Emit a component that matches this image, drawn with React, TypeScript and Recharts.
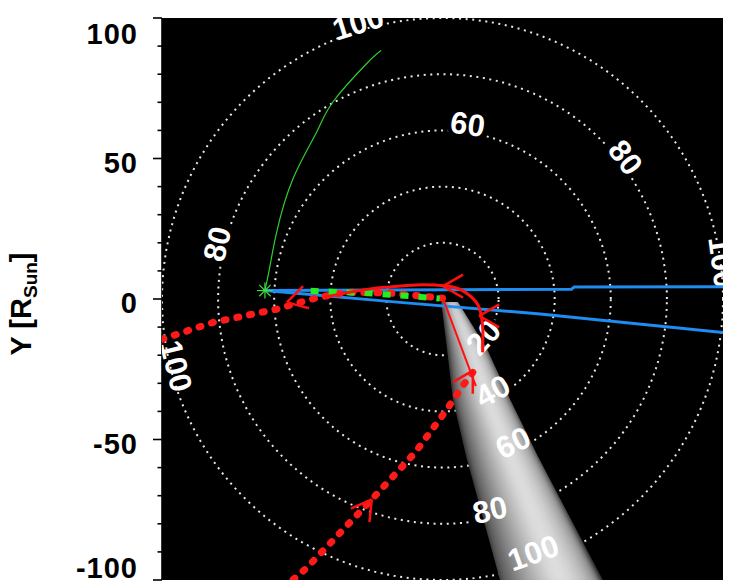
import React from "react";
import { ScatterChart, Scatter, XAxis, YAxis, ReferenceArea } from "recharts";

// axis setup (R_sun)
const AXIS_TICKS = [-100, -90, -80, -70, -60, -50, -40, -30, -20, -10, 0, 10, 20, 30, 40, 50, 60, 70, 80, 90, 100];
const MAJOR_TICKS = [-100, -50, 0, 50, 100];

// dotted distance rings and their labels
const RING_RADII = [20, 40, 60, 80, 100];
const RING_LABELS = [
  { label: "100", x: -30.1, y: 98.4 },
  { label: "60", x: 9.0, y: 62.4 },
  { label: "80", x: 65.4, y: 50.5 },
  { label: "100", x: 99.9, y: 13.1 },
  { label: "80", x: -80.5, y: 19.6 },
  { label: "100", x: -94.8, y: -23.8 },
  { label: "20", x: 14.5, y: -13.5 },
  { label: "40", x: 17.8, y: -32.6 },
  { label: "60", x: 25.1, y: -51.0 },
  { label: "80", x: 16.9, y: -74.9 },
  { label: "100", x: 32.3, y: -90.2 },
];

// observer position + field line
const STAR = [{ x: -63.3, y: 3.0 }];
const SPIRAL = [
  { x: -63.3, y: 3.0 },
  { x: -61.5, y: 11.8 },
  { x: -59.1, y: 23.9 },
  { x: -53.3, y: 42.8 },
  { x: -44.8, y: 59.5 },
  { x: -39.0, y: 70.2 },
  { x: -27.0, y: 83.8 },
  { x: -21.9, y: 88.4 },
];

// lines of sight
const BLUE_UPPER = [
  { x: -63.3, y: 3.0 },
  { x: 46, y: 3.5 },
  { x: 47, y: 4.3 },
  { x: 100, y: 4.4 },
];
const BLUE_LOWER = [
  { x: -63.3, y: 3.0 },
  { x: -15.2, y: -1.2 },
  { x: 34.8, y: -5.3 },
  { x: 100, y: -11.9 },
];

const GREEN_DASH = [
  { x: -47, y: 2.9 },
  { x: -25, y: 2.0 },
  { x: -1, y: 0.2 },
];

// red tracks
const RED_ARC = [
  { x: -42, y: 0.5 },
  { x: -36.5, y: 1.8 },
  { x: -25.8, y: 3.6 },
  { x: -18.7, y: 4.3 },
  { x: -9.2, y: 5.0 },
  { x: 1.5, y: 4.6 },
  { x: 7.3, y: 2.9 },
  { x: 12.2, y: -1.4 },
  { x: 13.9, y: -6.4 },
  { x: 14.4, y: -11.4 },
  { x: 14.3, y: -19 },
];
const RED_THIN = [
  { x: 0.3, y: -0.1 },
  { x: 11.9, y: -31 },
];
const RED_DASH_LEFT = [
  { x: -100, y: -14.3 },
  { x: -81.7, y: -8.3 },
  { x: -59.1, y: -3.6 },
  { x: -50.8, y: -1.2 },
  { x: -43.7, y: 0.7 },
  { x: -34, y: 2.4 },
  { x: -20, y: 2.2 },
  { x: 0, y: 0.3 },
];
const RED_DASH_BOTTOM = [
  { x: -53.2, y: -99.8 },
  { x: -48.4, y: -95.7 },
  { x: -25.2, y: -71.3 },
  { x: -9.8, y: -54.7 },
  { x: 1.2, y: -39.8 },
  { x: 7.2, y: -30.9 },
  { x: 10.8, y: -26.1 },
];
const ARROWS = [
  { x: -55.5, y: -1.2, angle: 195 },
  { x: 0.2, y: 4.6, angle: 180 },
  { x: 13.1, y: -6.0, angle: 180 },
  { x: 10.8, y: -25.5, angle: 60 },
  { x: -25.2, y: -71.3, angle: 54 },
];

// white-light cone: cross-sections (y, left x, right x) and brightness across it
const CONE_ROWS = [
  { y: -1.1, left: -0.5, right: 5.5 },
  { y: -17.8, left: 1.6, right: 15.9 },
  { y: -35.7, left: 3.7, right: 24.1 },
  { y: -56, left: 8.4, right: 34.0 },
  { y: -100, left: 20.5, right: 57.2 },
];
const CONE_PROFILE = [70, 98, 125, 150, 172, 192, 210, 224, 222, 210, 192, 165, 125];

const FONT = "'Liberation Sans', Arial, Helvetica, sans-serif";

const ringData = (r: number) =>
  Array.from({ length: 181 }, (_, i) => {
    const a = (i * 2 * Math.PI) / 180;
    return { x: r * Math.cos(a), y: r * Math.sin(a) };
  });

const coneData = CONE_ROWS.flatMap((row) =>
  CONE_PROFILE.map((_, i) => ({
    x: row.left + ((row.right - row.left) * i) / (CONE_PROFILE.length - 1),
    y: row.y,
  }))
);

const hidden = () => <g />;

const labelRotation = (x: number, y: number) => {
  let rot = 90 - (Math.atan2(y, x) * 180) / Math.PI;
  while (rot > 90) rot -= 180;
  while (rot <= -90) rot += 180;
  return rot;
};

const RingLabel = (props: any) => {
  const { cx, cy, payload } = props;
  const rot = labelRotation(payload.x, payload.y);
  return (
    <text
      x={cx}
      y={cy}
      transform={`rotate(${rot} ${cx} ${cy})`}
      textAnchor="middle"
      dy="0.36em"
      fill="#fff"
      fontFamily={FONT}
      fontWeight="bold"
      fontSize={31}
    >
      {payload.label}
    </text>
  );
};

// black halo so the dotted rings break around the labels
const RingHalo = (props: any) => {
  const { cx, cy, payload } = props;
  if (Math.abs(payload.x) > 92 || Math.abs(payload.y) > 92) return <g />;
  const rot = labelRotation(payload.x, payload.y);
  return (
    <text
      x={cx}
      y={cy}
      transform={`rotate(${rot} ${cx} ${cy})`}
      textAnchor="middle"
      dy="0.36em"
      fill="#000"
      stroke="#000"
      strokeWidth={9}
      fontFamily={FONT}
      fontWeight="bold"
      fontSize={31}
    >
      {payload.label}
    </text>
  );
};

const StarShape = (props: any) => {
  const { cx, cy } = props;
  const r = 8;
  return (
    <g stroke="#3de03d" strokeWidth={1.2}>
      {[0, 45, 90, 135].map((a) => {
        const dx = r * Math.cos((a * Math.PI) / 180);
        const dy = r * Math.sin((a * Math.PI) / 180);
        return <line key={a} x1={cx - dx} y1={cy - dy} x2={cx + dx} y2={cy + dy} />;
      })}
    </g>
  );
};

const ArrowShape = (props: any) => {
  const { cx, cy, payload } = props;
  const len = 23;
  const d = [150, -150]
    .map((off) => {
      const a = ((payload.angle + off) * Math.PI) / 180;
      return `M${cx},${cy} L${cx + len * Math.cos(a)},${cy - len * Math.sin(a)}`;
    })
    .join(" ");
  return <path d={d} stroke="#ff1010" strokeWidth={2.5} fill="none" />;
};

const renderCone = (props: any) => {
  const pts = props.points as { x: number; y: number }[];
  const n = CONE_PROFILE.length;
  if (!pts || pts.length < n * 2) return <g />;
  const rows: { x: number; y: number }[][] = [];
  for (let r = 0; r * n < pts.length; r++) rows.push(pts.slice(r * n, r * n + n));
  const leftSide = rows.map((row) => row[0]);
  const rightSide = rows.map((row) => row[n - 1]).reverse();
  const outline =
    [...leftSide, ...rightSide].map((p, i) => `${i ? "L" : "M"}${p.x},${p.y}`).join(" ") + " Z";
  const bands: React.ReactNode[] = [];
  for (let r = 0; r < rows.length - 1; r++) {
    const a = rows[r];
    const b = rows[r + 1];
    const ext = r === rows.length - 2 ? 6 : 0;
    const top = r === 0 ? 4 : 0;
    for (let i = 0; i < n - 1; i++) {
      const g = Math.round((CONE_PROFILE[i] + CONE_PROFILE[i + 1]) / 2);
      bands.push(
        <path
          key={`${r}-${i}`}
          d={`M${a[i].x},${a[i].y - top} L${a[i + 1].x},${a[i + 1].y - top} L${b[i + 1].x},${b[i + 1].y + ext} L${b[i].x},${b[i].y + ext} Z`}
          fill={`rgb(${g},${g},${g})`}
          stroke={`rgb(${g},${g},${g})`}
          strokeWidth={1}
        />
      );
    }
  }
  return (
    <g>
      <defs>
        <clipPath id="cone-clip">
          <path d={outline} />
        </clipPath>
        <filter id="cone-blur" x="-50%" y="-10%" width="200%" height="120%">
          <feGaussianBlur stdDeviation="3" />
        </filter>
      </defs>
      <g clipPath="url(#cone-clip)">
        <path d={outline} fill="#000" />
        <g filter="url(#cone-blur)">{bands}</g>
      </g>
    </g>
  );
};

const LeftTick = (props: any) => {
  const { x, y, payload } = props;
  const major = MAJOR_TICKS.includes(payload.value);
  const len = major ? 9 : 4.5;
  const shift = payload.value === 100 ? 16 : payload.value === -100 ? -12 : 4;
  return (
    <g>
      <line x1={x} x2={x - len} y1={y} y2={y} stroke="#000" strokeWidth={1.6} />
      {major && (
        <text
          x={x - 24}
          y={y + shift}
          dy="0.36em"
          textAnchor="end"
          fill="#000"
          fontFamily={FONT}
          fontWeight="bold"
          fontSize={29}
          letterSpacing={1}
        >
          {payload.value}
        </text>
      )}
    </g>
  );
};

const RightTick = (props: any) => {
  const { x, y, payload } = props;
  const len = MAJOR_TICKS.includes(payload.value) ? 9 : 4.5;
  return <line x1={x} x2={x + len} y1={y} y2={y} stroke="#000" strokeWidth={1.6} />;
};

const TopTick = (props: any) => {
  const { x, y, payload } = props;
  const len = MAJOR_TICKS.includes(payload.value) ? 9 : 4.5;
  return <line x1={x} x2={x} y1={y} y2={y - len} stroke="#000" strokeWidth={1.6} />;
};

const BottomTick = (props: any) => {
  const { x, y, payload } = props;
  const len = MAJOR_TICKS.includes(payload.value) ? 9 : 4.5;
  return <line x1={x} x2={x} y1={y} y2={y + len} stroke="#000" strokeWidth={1.6} />;
};

const YLabel = (props: any) => {
  const vb = props.viewBox || { x: 0, y: 18, width: 162, height: 562 };
  const cx = vb.x + 31;
  const cy = vb.y + vb.height / 2 + 5;
  return (
    <text
      x={cx}
      y={cy}
      transform={`rotate(-90 ${cx} ${cy})`}
      textAnchor="middle"
      fill="#000"
      fontFamily={FONT}
      fontWeight="bold"
      fontSize={29}
    >
      Y [R
      <tspan fontSize={19} dy={6}>
        Sun
      </tspan>
      <tspan dy={-6}>]</tspan>
    </text>
  );
};

const line = (stroke: string, strokeWidth: number, extra: any = {}) => ({
  stroke,
  strokeWidth,
  fill: "none",
  ...extra,
});

const App = () => {
  return (
    <div
      style={{
        position: "absolute",
        left: 0,
        top: 0,
        width: 732,
        height: 583,
        background: "#fff",
        overflow: "hidden",
      }}
    >
      <ScatterChart width={732} height={583} margin={{ top: 18, right: 9, bottom: 3, left: 0 }}>
        <XAxis
          type="number"
          dataKey="x"
          orientation="top"
          domain={[-100, 100]}
          allowDataOverflow
          ticks={AXIS_TICKS}
          interval={0}
          height={0}
          tickSize={0}
          tickMargin={0}
          tickLine={false}
          tick={TopTick}
          axisLine={{ stroke: "#000", strokeWidth: 1.6 }}
        />
        <XAxis
          xAxisId="bottom"
          type="number"
          dataKey="x"
          orientation="bottom"
          domain={[-100, 100]}
          allowDataOverflow
          ticks={AXIS_TICKS}
          interval={0}
          height={0}
          tickSize={0}
          tickMargin={0}
          tickLine={false}
          tick={BottomTick}
          axisLine={{ stroke: "#000", strokeWidth: 1.6 }}
        />
        <YAxis
          type="number"
          dataKey="y"
          domain={[-100, 100]}
          allowDataOverflow
          ticks={AXIS_TICKS}
          interval={0}
          width={162}
          tickSize={0}
          tickMargin={0}
          tickLine={false}
          tick={LeftTick}
          axisLine={{ stroke: "#000", strokeWidth: 1.6 }}
          label={{ content: YLabel }}
        />
        <YAxis
          yAxisId="right"
          type="number"
          dataKey="y"
          orientation="right"
          domain={[-100, 100]}
          allowDataOverflow
          ticks={AXIS_TICKS}
          interval={0}
          width={0}
          tickSize={0}
          tickMargin={0}
          tickLine={false}
          tick={RightTick}
          axisLine={{ stroke: "#000", strokeWidth: 1.6 }}
        />

        <ReferenceArea x1={-100} x2={100} y1={-100} y2={100} fill="#000" fillOpacity={1} stroke="none" />

        {RING_RADII.map((r) => (
          <Scatter
            key={`ring-${r}`}
            data={ringData(r)}
            shape={hidden}
            line={line("#e8e8e8", 2, { strokeDasharray: "2 4.6" })}
            isAnimationActive={false}
          />
        ))}
        <Scatter data={RING_LABELS} shape={RingHalo} isAnimationActive={false} />
        <Scatter data={coneData} shape={hidden} line={renderCone} isAnimationActive={false} />
        <Scatter data={RING_LABELS} shape={RingLabel} isAnimationActive={false} />

        <Scatter data={BLUE_UPPER} shape={hidden} line={line("#1f8cf0", 3)} isAnimationActive={false} />
        <Scatter data={BLUE_LOWER} shape={hidden} line={line("#1f8cf0", 3)} isAnimationActive={false} />
        <Scatter
          data={SPIRAL}
          shape={hidden}
          line={line("#2fcf2f", 1.2)}
          lineJointType="natural"
          isAnimationActive={false}
        />
        <Scatter
          data={RED_DASH_LEFT}
          shape={hidden}
          line={line("#ff1a1a", 7, { strokeDasharray: "2 11", strokeLinecap: "round" })}
          isAnimationActive={false}
        />
        <Scatter
          data={RED_DASH_BOTTOM}
          shape={hidden}
          line={line("#ff1a1a", 7, { strokeDasharray: "2 11", strokeLinecap: "round" })}
          isAnimationActive={false}
        />
        <Scatter
          data={GREEN_DASH}
          shape={hidden}
          line={line("#22ee22", 6, { strokeDasharray: "8 10" })}
          isAnimationActive={false}
        />
        <Scatter
          data={RED_ARC}
          shape={hidden}
          line={line("#ff1010", 3)}
          lineJointType="natural"
          isAnimationActive={false}
        />
        <Scatter data={RED_THIN} shape={hidden} line={line("#ff1010", 2)} isAnimationActive={false} />
        <Scatter data={ARROWS} shape={ArrowShape} isAnimationActive={false} />
        <Scatter data={STAR} shape={StarShape} isAnimationActive={false} />
      </ScatterChart>
    </div>
  );
};

export default App;
